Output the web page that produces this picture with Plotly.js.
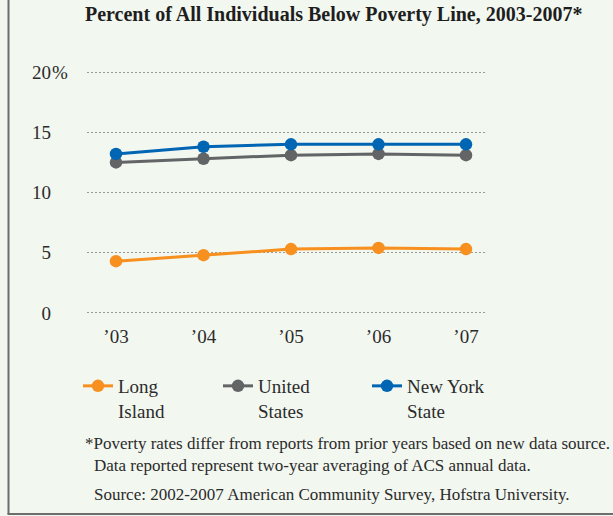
<!DOCTYPE html>
<html>
<head>
<meta charset="utf-8">
<script src="https://cdn.plot.ly/plotly-3.0.1.min.js"></script>
<style>
  html, body { margin: 0; padding: 0; background: #f2f7f0; }
  #chart { width: 613px; height: 516px; }
</style>
</head>
<body>
<div id="chart"></div>
<script>
// Poverty rates (%) by year
const years = ["’03", "’04", "’05", "’06", "’07"];
const longIsland = [4.3, 4.8, 5.3, 5.4, 5.3];
const unitedStates = [12.5, 12.8, 13.1, 13.2, 13.1];
const newYorkState = [13.2, 13.8, 14.0, 14.0, 14.0];
const yTicks = [0, 5, 10, 15, 20];

const W = 613, H = 516;
const M = { l: 87, r: 126, t: 66, b: 197, autoexpand: false };
const PW = W - M.l - M.r, PH = H - M.t - M.b;
// pixel -> paper helpers for the page furniture
const px = x => (x - M.l) / PW;
const py = y => (H - M.b - y) / PH;

const FONT = "Liberation Serif, Times New Roman, serif";
const TXT = "#2b2b2b";
const xs = years.map((_, i) => i);

function series(name, y, color, legendId) {
  return {
    type: "scatter", mode: "lines+markers", name: name,
    x: xs, y: y, legend: legendId,
    line: { color: color, width: 3 },
    marker: { color: color, size: 12.5 },
    hoverinfo: "skip"
  };
}

const traces = [
  series("Long<br>Island", longIsland, "#f7901e", "legend"),
  series("United<br>States", unitedStates, "#636466", "legend2"),
  series("New York<br>State", newYorkState, "#0065b3", "legend3")
];

function legendAt(x) {
  return {
    xref: "container", yref: "container",
    x: x / W, y: 1 - 367 / H, xanchor: "left", yanchor: "top",
    bgcolor: "rgba(0,0,0,0)", borderwidth: 0,
    font: { family: FONT, size: 19, color: TXT },
    valign: "top", tracegroupgap: 0
  };
}

const noteFont = { family: FONT, size: 17, color: TXT };

const layout = {
  width: W, height: H,
  margin: M,
  paper_bgcolor: "#f2f7f0",
  plot_bgcolor: "#f2f7f0",
  title: {
    text: "<b>Percent of All Individuals Below Poverty Line, 2003-2007*</b>",
    font: { family: FONT, size: 20, color: "#1e1e1e" },
    xref: "container", yref: "container",
    x: 85 / W, xanchor: "left", y: 1 - 14 / H, yanchor: "middle"
  },
  xaxis: {
    range: [-29 / 87.5, 371 / 87.5],
    tickvals: xs, ticktext: years, automargin: false,
    showgrid: false, zeroline: false, showline: false, ticks: "",
    tickfont: { family: FONT, size: 19, color: TXT },
    ticklabelstandoff: 4
  },
  yaxis: {
    range: [-0.5, 20.5], automargin: false,
    tickvals: yTicks, ticktext: yTicks.map(String),
    showgrid: true, gridcolor: "#9a9a9a", gridwidth: 1, griddash: "2px,2px",
    zeroline: false, showline: false, ticks: "",
    tickfont: { family: FONT, size: 19, color: TXT },
    ticklabelstandoff: 35
  },
  showlegend: true,
  legend: legendAt(78),
  legend2: legendAt(218),
  legend3: legendAt(367),
  annotations: [
    { xref: "paper", yref: "y", x: px(50), y: 20, xanchor: "left", yanchor: "middle",
      text: "%", showarrow: false, font: { family: FONT, size: 19, color: TXT } },
    { xref: "paper", yref: "paper", x: px(83), y: py(443), xanchor: "left", yanchor: "middle",
      text: "*Poverty rates differ from reports from prior years based on new data source.",
      showarrow: false, font: noteFont },
    { xref: "paper", yref: "paper", x: px(92), y: py(465), xanchor: "left", yanchor: "middle",
      text: "Data reported represent two-year averaging of ACS annual data.",
      showarrow: false, font: noteFont },
    { xref: "paper", yref: "paper", x: px(92), y: py(494), xanchor: "left", yanchor: "middle",
      text: "Source: 2002-2007 American Community Survey, Hofstra University.",
      showarrow: false, font: noteFont }
  ],
  shapes: [
    { type: "line", xref: "paper", yref: "paper", x0: px(8.5), x1: px(8.5), y0: py(0), y1: py(514),
      line: { color: "#6d6d6d", width: 2 } },
    { type: "line", xref: "paper", yref: "paper", x0: px(7.5), x1: px(613), y0: py(514), y1: py(514),
      line: { color: "#6d6d6d", width: 2 } }
  ]
};

Plotly.newPlot("chart", traces, layout, { displayModeBar: false, staticPlot: true });
</script>
</body>
</html>
